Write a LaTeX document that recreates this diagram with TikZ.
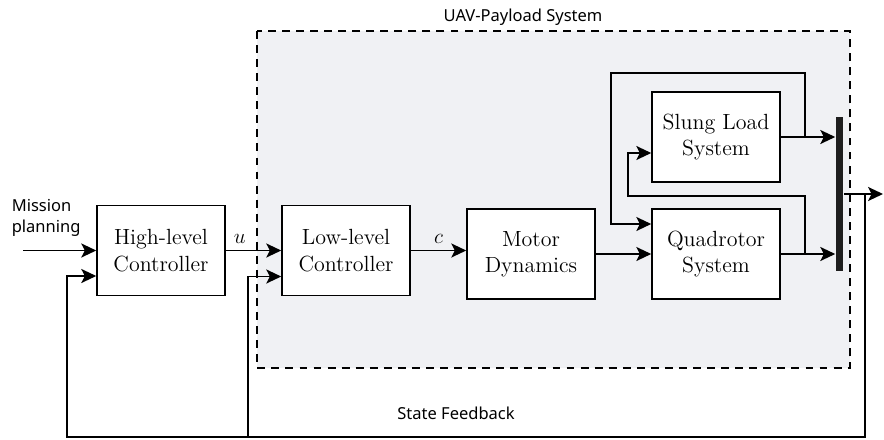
\documentclass[tikz,border=0pt]{standalone}
\usepackage{amsmath,amssymb}
\usepackage{fontspec}
\newfontfamily\labelfont{Noto Sans}
\usepackage{tikz}
\usetikzlibrary{arrows.meta, positioning, calc}
\definecolor{sysgray}{RGB}{240,241,244}
\definecolor{barblack}{RGB}{30,30,30}

\begin{document}
\begin{tikzpicture}[x=0.02cm, y=-0.02cm, line width=0.9pt,
    font=\fontsize{12.5}{15}\selectfont,
    block/.style={draw, fill=white, rectangle, minimum width=2.56cm, minimum height=1.8cm,
        align=center},
    sig/.style={-{Stealth[length=8.5pt, width=8pt, inset=2pt]}},
    sans/.style={font=\labelfont\fontsize{9.4}{12}\selectfont}]
    \useasboundingbox (0,0) rectangle (884,439);

    % system frame
    \draw[dash pattern=on 4.5pt off 3.5pt, fill=sysgray] (257,31) rectangle (850,368);
    \node[sans] (title) at (523,17) {UAV-Payload System};

    % blocks
    \node[block] (hlc) at (161,250.5) {High-level\\Controller};
    \node[block] (llc) at (346,250.5) {Low-level\\Controller};
    \node[block] (motor) at (531,254) {Motor\\Dynamics};
    \node[block] (quad) at (716,254) {Quadrotor\\System};
    \node[block] (slung) at (716,137) {Slung Load\\System};
    \node[draw=none, fill=barblack, minimum width=0.14cm, minimum height=3.08cm, inner sep=0pt]
        (bar) at (839.5,194) {};

    \node[sans, align=left, anchor=west, inner sep=0pt] (mission) at (11,218) {Mission\\planning};
    \coordinate (in) at (23,250.5);
    \coordinate (out) at (883,194);
    \coordinate (split) at (865,194);
    \coordinate (fbL) at (67,437);
    \coordinate (fbM) at (248,437);

    % forward path
    \draw[sig] (in) -- (hlc.west);
    \draw[sig] (hlc.east) -- (llc.west) node[pos=0.25, above=0pt]{$u$};
    \draw[sig] (llc.east) -- (llc.east -| motor.west) node[midway, above=0pt]{$c$};
    \draw[sig] (motor.east) -- (quad.west);
    \draw[sig] (quad.east) -- (quad.east -| bar.west);
    \draw[sig] (slung.east) -- (slung.east -| bar.west);

    % coupling between load and quadrotor
    \draw[sig] ($(slung.east)+(24,0)$) |- (611,73) |- ($(quad.west)+(0,-30)$);
    \draw[sig] ($(quad.east)+(24,0)$) |- (628,196) |- ($(slung.west)+(0,16)$);

    % output and feedback
    \draw[sig] (bar.east) -- (out);
    \draw[sig] (split) |- (fbL) |- ($(hlc.west)+(0,25.5)$);
    \draw[sig] (fbM) |- ($(llc.west)+(0,26)$);
    \node[sans] (fblabel) at (456,413) {State Feedback};
\end{tikzpicture}
\end{document}
